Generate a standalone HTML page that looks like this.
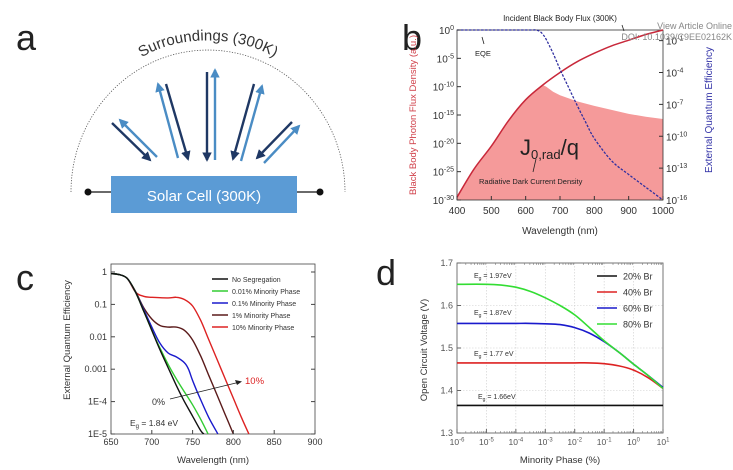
<!DOCTYPE html>
<html><head><meta charset="utf-8">
<style>
body{margin:0;background:#fff;}
svg{display:block;font-family:"Liberation Sans","DejaVu Sans",sans-serif;}
</style></head>
<body>
<svg id="fig" width="733" height="470" viewBox="0 0 733 470" xmlns="http://www.w3.org/2000/svg">
<rect width="733" height="470" fill="#fff"/>
<!-- Panel a -->
<g>
 <text x="16" y="50" font-size="36" fill="#222">a</text>
 <path id="arcp" d="M71,192 A137,142 0 0 1 345,192" fill="none" stroke="#555" stroke-width="0.8" stroke-dasharray="1.2,1.5"/>
 <path id="arct" d="M126,70 A95,60 0 0 1 290,70" fill="none" stroke="none"/>
 <text font-size="15" fill="#333"><textPath href="#arct" startOffset="50%" text-anchor="middle">Surroundings (300K)</textPath></text>
 <line x1="88" y1="192" x2="112" y2="192" stroke="#111" stroke-width="1.2"/>
 <line x1="297" y1="192" x2="320" y2="192" stroke="#111" stroke-width="1.2"/>
 <circle cx="88" cy="192" r="3.5" fill="#111"/>
 <circle cx="320" cy="192" r="3.5" fill="#111"/>
 <rect x="111" y="176" width="186" height="37" fill="#5b9bd5"/>
 <text x="204" y="201" font-size="15" fill="#fff" text-anchor="middle">Solar Cell (300K)</text>
 <g id="arrows"></g>
</g>
<!-- Panel b -->
<g id="pb">
 <text x="402" y="50" font-size="36" fill="#222">b</text>
</g>
<g id="pc">
 <text x="16" y="290" font-size="36" fill="#222">c</text>
</g>
<g id="pd">
 <text x="376" y="285" font-size="36" fill="#222">d</text>
</g>
</svg>
<script>
// ---- Panel b data ----
var bWave = [400,450,500,550,600,650,700,750,800,850,900,950,1000];
var bFlux = [-29.5,-24.5,-20.5,-16,-12.3,-9.7,-7.5,-5.6,-4.1,-2.8,-1.8,-0.8,0];
var bFillWave = [650,660,680,700,750,800,850,900,950,1000];
var bFillVal = [-9.7,-10.0,-10.9,-11.5,-12.6,-13.4,-14.1,-14.8,-15.3,-15.7];
var bEqeWave = [400,500,600,620,630,640,650,660,680,700,725,750,775,800,850,900,950,1000];
var bEqeVal = [0,0,0,0,0,-0.1,-0.4,-0.9,-2.2,-3.7,-5.4,-7.1,-8.7,-10.2,-12.3,-13.6,-14.8,-16];
var bLeftTicks = [0,-5,-10,-15,-20,-25,-30];
var bRightTicks = [-1,-4,-7,-10,-13,-16];
var bXTicks = [400,500,600,700,800,900,1000];
// ---- Panel c data ----
var cSeries = ["No Segregation","0.01% Minority Phase","0.1% Minority Phase","1% Minority Phase","10% Minority Phase"];
var cColors = ["#111111","#33cc33","#1a1acc","#5a1a1a","#dd2222"];
var cWave0 = [650,660,670,680,690,700,710,720,730,740,750,760,764];
var cVal0 = [-0.05,-0.08,-0.2,-0.62,-1.2,-1.8,-2.4,-2.95,-3.5,-4.0,-4.45,-4.9,-5];
var cWave1 = [650,660,670,680,690,700,710,720,730,740,750,760,769];
var cVal1 = [-0.05,-0.08,-0.2,-0.62,-1.2,-1.8,-2.35,-2.85,-3.3,-3.7,-4.1,-4.55,-5];
var cWave2 = [650,660,670,680,690,700,710,720,730,740,745,750,760,770,781];
var cVal2 = [-0.05,-0.08,-0.2,-0.62,-1.15,-1.7,-2.2,-2.5,-2.62,-2.8,-3.0,-3.35,-3.95,-4.5,-5];
var cWave3 = [650,660,670,680,690,700,710,720,730,740,750,760,770,780,790,800];
var cVal3 = [-0.05,-0.08,-0.2,-0.6,-1.1,-1.45,-1.65,-1.7,-1.7,-1.8,-2.1,-2.6,-3.2,-3.8,-4.4,-5];
var cWave4 = [650,660,670,680,690,700,720,730,740,750,760,770,780,790,800,810,819];
var cVal4 = [-0.05,-0.08,-0.2,-0.62,-0.75,-0.78,-0.8,-0.78,-0.85,-1.05,-1.5,-2.1,-2.7,-3.3,-3.9,-4.5,-5];
var cYTicks = [0,-1,-2,-3,-4,-5];
var cYLabels = ["1","0.1","0.01","0.001","1E-4","1E-5"];
var cXTicks = [650,700,750,800,850,900];
// ---- Panel d data ----
var dSeries = ["20% Br","40% Br","60% Br","80% Br"];
var dColors = ["#111111","#dd2222","#1a1acc","#33dd33"];
var dLogX = [-6,-5,-4.5,-4,-3.5,-3,-2.5,-2,-1.5,-1,-0.5,0,0.5,1];
var dV20 = [1.365,1.365,1.365,1.365,1.365,1.365,1.365,1.365,1.365,1.365,1.365,1.365,1.365,1.365];
var dV40 = [1.465,1.465,1.465,1.465,1.465,1.465,1.465,1.465,1.465,1.463,1.458,1.448,1.43,1.405];
var dV60 = [1.558,1.558,1.558,1.558,1.558,1.557,1.555,1.548,1.535,1.515,1.49,1.462,1.435,1.407];
var dV80 = [1.65,1.65,1.648,1.643,1.633,1.618,1.6,1.578,1.548,1.517,1.49,1.462,1.435,1.405];
var dYTicks = [1.3,1.4,1.5,1.6,1.7];
var dXTicks = [-6,-5,-4,-3,-2,-1,0,1];

var NS="http://www.w3.org/2000/svg";
function mk(tag,attrs,parent){var e=document.createElementNS(NS,tag);for(var k in attrs)e.setAttribute(k,attrs[k]);parent.appendChild(e);return e;}
function txt(s,attrs,parent){var e=mk('text',attrs,parent);e.textContent=s;return e;}
function supTxt(base,sup,x,y,fs,anchor,fill,parent){var e=mk('text',{x:x,y:y,'font-size':fs,'text-anchor':anchor,fill:fill},parent);var t1=document.createElementNS(NS,'tspan');t1.textContent=base;e.appendChild(t1);var t2=document.createElementNS(NS,'tspan');t2.setAttribute('dy',-fs*0.4);t2.setAttribute('font-size',fs*0.7);t2.textContent=sup;e.appendChild(t2);return e;}
function smooth(pts){var d='M'+pts[0][0].toFixed(1)+','+pts[0][1].toFixed(1);for(var i=0;i<pts.length-1;i++){var p0=pts[i-1]||pts[i],p1=pts[i],p2=pts[i+1],p3=pts[i+2]||p2;var c1x=p1[0]+(p2[0]-p0[0])/6,c1y=p1[1]+(p2[1]-p0[1])/6,c2x=p2[0]-(p3[0]-p1[0])/6,c2y=p2[1]-(p3[1]-p1[1])/6;d+=' C'+c1x.toFixed(1)+','+c1y.toFixed(1)+' '+c2x.toFixed(1)+','+c2y.toFixed(1)+' '+p2[0].toFixed(1)+','+p2[1].toFixed(1);}return d;}

// arrows panel a
(function(){
 var g=document.getElementById('arrows');
 var dark='#1f3864',light='#4a8cc4';
 var defs=mk('defs',{},document.getElementById('fig'));
 [['hd',dark],['hl',light]].forEach(function(m){var mm=mk('marker',{id:m[0],viewBox:'0 0 10 10',refX:'8',refY:'5',markerWidth:'4',markerHeight:'4',orient:'auto'},defs);mk('path',{d:'M0,0 L10,5 L0,10 z',fill:m[1]},mm);});
 var A=[[112,123,150,160,'hd'],[157,157,120,120,'hl'],[178,158,158,84,'hl'],[166,84,188,159,'hd'],[207,72,207,160,'hd'],[215,160,215,70,'hl'],[254,84,233,159,'hd'],[241,161,262,86,'hl'],[292,122,257,158,'hd'],[264,163,299,126,'hl']];
 A.forEach(function(a){var l=mk('line',{x1:a[0],y1:a[1],x2:a[2],y2:a[3],stroke:a[4]=='hd'?dark:light,'stroke-width':2.4,'marker-end':'url(#'+a[4]+')'},g);
 
 });
})();

// Panel b
(function(){
 var g=document.getElementById('pb');
 var X0=457,X1=663,Y0=30,Y1=200;
 function x(w){return X0+(w-400)/600*(X1-X0);}
 function yl(v){return Y0+(0-v)/30*(Y1-Y0);}
 function yr(v){return Y0+(0-v)/16*(Y1-Y0);}
 var fp=[];for(var i=0;i<bWave.length;i++){if(bWave[i]<=650)fp.push([x(bWave[i]),yl(bFlux[i])]);}
 for(i=1;i<bFillWave.length;i++)fp.push([x(bFillWave[i]),yl(bFillVal[i])]);
 var d='M'+x(400)+','+Y1+' L'+fp.map(function(p){return p[0].toFixed(1)+','+p[1].toFixed(1)}).join(' L')+' L'+X1+','+Y1+' Z';
 var f=mk('path',{d:d,fill:'#f59a9a'},g);
 
 
 mk('rect',{x:X0,y:Y0,width:X1-X0,height:Y1-Y0,fill:'none',stroke:'#333','stroke-width':0.8},g);
 var bb=mk('path',{d:smooth(bWave.map(function(w,i){return [x(w),yl(bFlux[i])]})),fill:'none',stroke:'#c8283a','stroke-width':1.5},g);
 
 
 var eq=mk('path',{d:smooth(bEqeWave.map(function(w,i){return [x(w),yr(bEqeVal[i])]})),fill:'none',stroke:'#2f2fa0','stroke-width':1.3,'stroke-dasharray':'2.5,1.5'},g);
 
 
 bLeftTicks.forEach(function(v){var yy=yl(v);mk('line',{x1:X0,y1:yy,x2:X0+4,y2:yy,stroke:'#333'},g);var t=supTxt('10',String(v),X0-3,yy+4,10,'end','#333',g);
 
 });
 bRightTicks.forEach(function(v){var yy=yr(v);mk('line',{x1:X1-4,y1:yy,x2:X1,y2:yy,stroke:'#333'},g);var t=supTxt('10',String(v),X1+3,yy+4,10,'start','#333',g);
 
 });
 bXTicks.forEach(function(v){var xx=x(v);mk('line',{x1:xx,y1:Y1,x2:xx,y2:Y1-4,stroke:'#333'},g);var t=txt(String(v),{x:xx,y:Y1+14,'font-size':10,'text-anchor':'middle',fill:'#333'},g);
 
 });
 var t;
 t=txt('Wavelength (nm)',{x:560,y:234,'font-size':10,'text-anchor':'middle',fill:'#333'},g);
 t=txt('Black Body Photon Flux Density (a.u.)',{x:0,y:0,'font-size':9.5,'text-anchor':'middle',fill:'#d0404a',transform:'translate(416,115) rotate(-90)'},g);
 t=txt('External Quantum Efficiency',{x:0,y:0,'font-size':10,'text-anchor':'middle',fill:'#3434a8',transform:'translate(712,110) rotate(-90)'},g);
 t=txt('Incident Black Body Flux (300K)',{x:560,y:21,'font-size':8,'text-anchor':'middle',fill:'#222'},g);
 mk('line',{x1:622,y1:25,x2:624,y2:31,stroke:'#222','stroke-width':0.8},g);
 t=txt('EQE',{x:475,y:56,'font-size':7.5,fill:'#222'},g);
 mk('line',{x1:484,y1:44,x2:482,y2:37,stroke:'#222','stroke-width':0.8},g);
 t=mk('text',{x:520,y:155,'font-size':22,fill:'#222'},g);t.innerHTML='J<tspan font-size="13" dy="4">0,rad</tspan><tspan dy="-4">/q</tspan>';
 mk('line',{x1:536,y1:159,x2:533,y2:172,stroke:'#222','stroke-width':0.8},g);
 t=txt('Radiative Dark Current Density',{x:479,y:184,'font-size':7.5,fill:'#222'},g);
 t=txt('View Article Online',{x:732,y:29,'font-size':9,'text-anchor':'end',fill:'#888'},g);
 t=txt('DOI: 10.1039/C9EE02162K',{x:732,y:40,'font-size':9,'text-anchor':'end',fill:'#888'},g);
})();

// Panel c
(function(){
 var g=document.getElementById('pc');
 var X0=111,X1=315,Y0=264,Y1=434;
 function x(w){return X0+(w-650)/250*(X1-X0);}
 function y(v){return 272+(0-v)*32.4;}
 mk('rect',{x:X0,y:Y0,width:X1-X0,height:Y1-Y0,fill:'none',stroke:'#444','stroke-width':0.8},g);
 var W=[cWave0,cWave1,cWave2,cWave3,cWave4],V=[cVal0,cVal1,cVal2,cVal3,cVal4];
 var cp=mk('clipPath',{id:'cclip'},g);mk('rect',{x:X0,y:Y0,width:X1-X0,height:Y1-Y0},cp);
 for(var s=4;s>=0;s--){var p=mk('path',{d:smooth(W[s].map(function(w,i){return [x(w),y(V[s][i])]})),fill:'none',stroke:cColors[s],'stroke-width':1.4,'clip-path':'url(#cclip)'},g);
 
 }
 cYTicks.forEach(function(v,i){var yy=y(v);mk('line',{x1:X0,y1:yy,x2:X0+4,y2:yy,stroke:'#444'},g);mk('line',{x1:X1,y1:yy,x2:X1-4,y2:yy,stroke:'#444'},g);var t=txt(cYLabels[i],{x:X0-4,y:yy+3,'font-size':9,'text-anchor':'end',fill:'#333'},g);
 
 });
 cXTicks.forEach(function(v){var xx=x(v);mk('line',{x1:xx,y1:Y1,x2:xx,y2:Y1-4,stroke:'#444'},g);var t=txt(String(v),{x:xx,y:Y1+11,'font-size':9,'text-anchor':'middle',fill:'#333'},g);
 
 });
 cSeries.forEach(function(n,i){var yy=279+i*12;var l=mk('line',{x1:212,y1:yy,x2:228,y2:yy,stroke:cColors[i],'stroke-width':1.5},g);
 
 
 var t=txt(n,{x:232,y:yy+3,'font-size':7,fill:'#333'},g);
 
 });
 var t;
 t=txt('Wavelength (nm)',{x:213,y:463,'font-size':9.5,'text-anchor':'middle',fill:'#333'},g);
 t=txt('External Quantum Efficiency',{x:0,y:0,'font-size':9.5,'text-anchor':'middle',fill:'#333',transform:'translate(70,340) rotate(-90)'},g);
 t=txt('0%',{x:152,y:405,'font-size':9,fill:'#333'},g);
 mk('line',{x1:170,y1:399,x2:240,y2:382,stroke:'#222','stroke-width':0.9},g);
 mk('path',{d:'M242,381.5 L235,380 L237,385 Z',fill:'#222'},g);
 t=txt('10%',{x:245,y:384,'font-size':9.5,fill:'#dd2222'},g);
 t=mk('text',{x:130,y:426,'font-size':8.5,fill:'#333'},g);t.innerHTML='E<tspan font-size="6" dy="2">g</tspan><tspan dy="-2"> = 1.84 eV</tspan>';
})();

// Panel d
(function(){
 var g=document.getElementById('pd');
 var X0=457,X1=663,Y0=263,Y1=433;
 function x(l){return X0+(l+6)/7*(X1-X0);}
 function y(v){return Y1-(v-1.3)/0.4*(Y1-Y0);}
 dXTicks.forEach(function(v){if(v>-6&&v<1)mk('line',{x1:x(v),y1:Y0,x2:x(v),y2:Y1,stroke:'#ccc','stroke-width':0.6,'stroke-dasharray':'1.5,1.5'},g);});
 dYTicks.forEach(function(v){if(v>1.3&&v<1.7)mk('line',{x1:X0,y1:y(v),x2:X1,y2:y(v),stroke:'#ccc','stroke-width':0.6,'stroke-dasharray':'1.5,1.5'},g);});
 mk('rect',{x:X0,y:Y0,width:X1-X0,height:Y1-Y0,fill:'none',stroke:'#666','stroke-width':0.9},g);
 for(var d=-6;d<1;d++)for(var k=2;k<10;k++){var xx=x(d+Math.log10(k));mk('line',{x1:xx,y1:Y1,x2:xx,y2:Y1-2,stroke:'#666','stroke-width':0.5},g);mk('line',{x1:xx,y1:Y0,x2:xx,y2:Y0+2,stroke:'#666','stroke-width':0.5},g);}
 var V=[dV20,dV40,dV60,dV80];
 for(var s=0;s<4;s++){var p=mk('path',{d:smooth(dLogX.map(function(l,i){return [x(l),y(V[s][i])]})),fill:'none',stroke:dColors[s],'stroke-width':1.6},g);
 
 }
 dYTicks.forEach(function(v){var yy=y(v);mk('line',{x1:X0,y1:yy,x2:X0+4,y2:yy,stroke:'#666'},g);var t=txt(v.toFixed(1),{x:X0-4,y:yy+3,'font-size':9,'text-anchor':'end',fill:'#555'},g);
 
 });
 dXTicks.forEach(function(v){var xx=x(v);mk('line',{x1:xx,y1:Y1,x2:xx,y2:Y1-4,stroke:'#666'},g);var t=supTxt('10',String(v),xx,Y1+12,8.5,'middle','#555',g);
 
 });
 dSeries.forEach(function(n,i){var yy=276+i*16;var l=mk('line',{x1:597,y1:yy,x2:617,y2:yy,stroke:dColors[i],'stroke-width':1.6},g);
 
 
 var t=txt(n,{x:623,y:yy+3.5,'font-size':9,fill:'#333'},g);
 
 });
 var labs=[['1.97eV',474,278],['1.87eV',474,315],['1.77 eV',474,356],['1.66eV',478,399]];
 labs.forEach(function(l){var t=mk('text',{x:l[1],y:l[2],'font-size':7,fill:'#333'},g);t.innerHTML='E<tspan font-size="5" dy="2">g</tspan><tspan dy="-2"> = '+l[0]+'</tspan>';
 
 });
 var t;
 t=txt('Minority Phase (%)',{x:560,y:463,'font-size':9.5,'text-anchor':'middle',fill:'#333'},g);
 t=txt('Open Circuit Voltage (V)',{x:0,y:0,'font-size':9.5,'text-anchor':'middle',fill:'#333',transform:'translate(427,350) rotate(-90)'},g);
})();
</script>
</body></html>
